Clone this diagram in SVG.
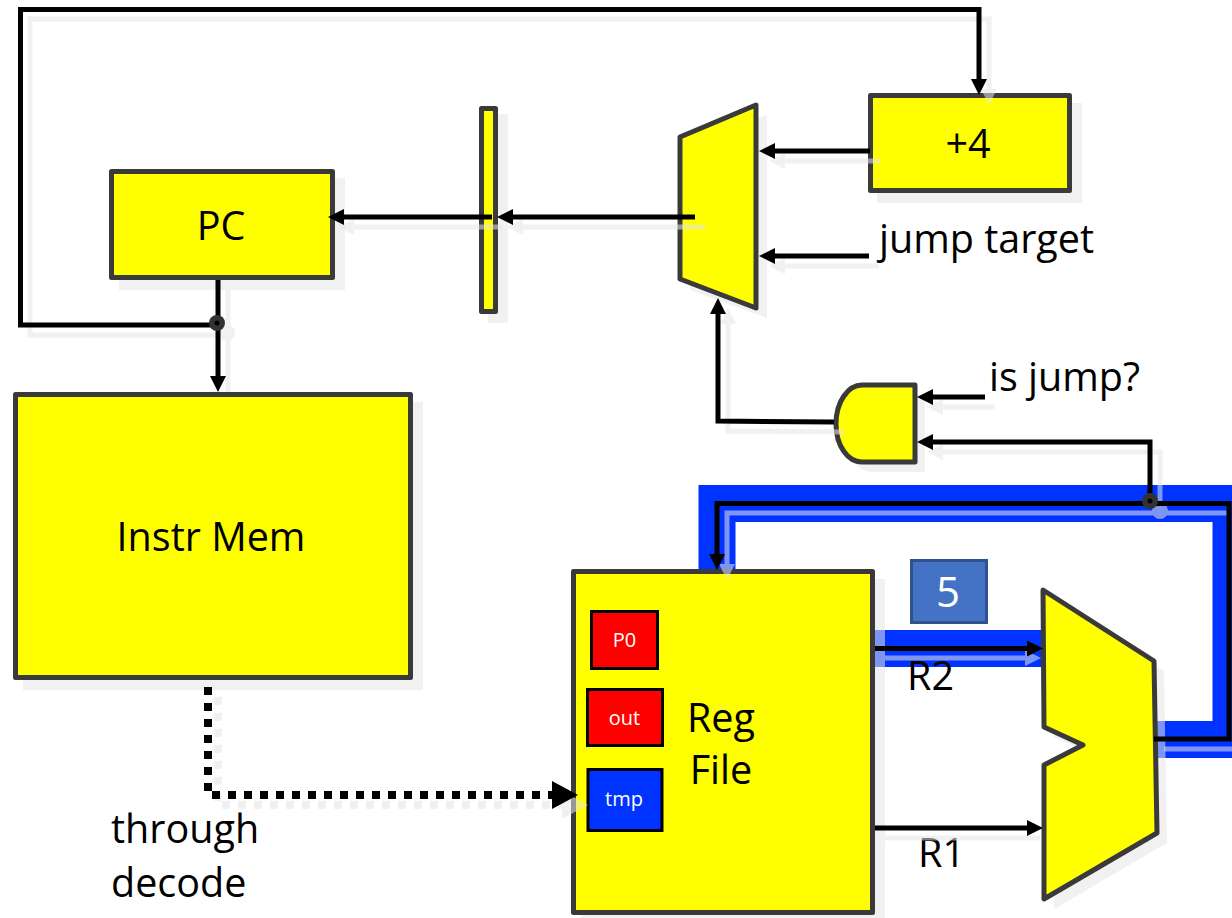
<svg xmlns="http://www.w3.org/2000/svg" width="1232" height="918" viewBox="0 0 1232 918">
<style>
text{font-family:"Open Sans","Noto Sans",sans-serif;fill:#000}
.t{font-size:39.5px}
.m{text-anchor:middle}
.s{font-size:20px;fill:#fff;text-anchor:middle}
.node{fill:#ff0;stroke:#3a3a3a;stroke-width:5;stroke-linejoin:round}
.ns{fill:#e6e6e6;opacity:.55}
.w{fill:none;stroke:#000;stroke-width:5;stroke-linejoin:miter}
.a{marker-end:url(#ah)}
.sw{fill:none;stroke:#e6e6e6;stroke-width:5}
.sa{marker-end:url(#sh)}
.blue{fill:none;stroke:#0033ff;stroke-width:37}
.reg{stroke:#000;stroke-width:3}
</style>
<defs>
<marker id="ah" markerUnits="userSpaceOnUse" markerWidth="16" markerHeight="16" refX="2" refY="8" orient="auto"><path d="M0 0L16 8L0 16Z" fill="#000"/></marker>
<marker id="sh" markerUnits="userSpaceOnUse" markerWidth="16" markerHeight="16" refX="2" refY="8" orient="auto"><path d="M0 0L16 8L0 16Z" fill="#e6e6e6"/></marker>
<marker id="ahl" markerUnits="userSpaceOnUse" markerWidth="26" markerHeight="28" refX="2" refY="14" orient="auto"><path d="M0 0L26 14L0 28Z" fill="#000"/></marker>
<marker id="shl" markerUnits="userSpaceOnUse" markerWidth="26" markerHeight="28" refX="2" refY="14" orient="auto"><path d="M0 0L26 14L0 28Z" fill="#e6e6e6"/></marker>
</defs>
<rect width="1232" height="918" fill="#fff"/>

<g id="highlights">
<path class="blue" d="M717 572V503.5H1231V739.5H1150"/>
<path class="blue" d="M870 648.5H1046"/>
</g>

<g id="pc">
<rect class="ns" x="119" y="178" width="226" height="112"/>
<rect class="node" x="111.5" y="171.5" width="221" height="106"/>
<text class="t m" x="221" y="240">PC</text>
</g>
<g id="latch">
<rect class="ns" x="488" y="114" width="20" height="209"/>
<rect class="node" x="481.5" y="108.5" width="14" height="203"/>
</g>
<g id="mux">
<path class="ns" d="M690 147L767 115V318L690 290Z"/>
<path class="node" d="M680 137L756 105V308L680 279Z"/>
</g>
<g id="plus4">
<rect class="ns" x="877" y="103" width="205" height="100"/>
<rect class="node" x="870.5" y="95.5" width="199" height="95"/>
<text class="t m" x="968" y="158">+4</text>
</g>
<g id="and-gate">
<path class="ns" d="M925 395H872C858 395 846 412 846 434C846 456 858 472 872 472H925Z"/>
<path class="node" d="M915 385H862C848 385 836 402 836 424C836 446 848 462 862 462H915Z"/>
</g>
<g id="instr-mem">
<rect class="ns" x="23" y="402" width="400" height="288"/>
<rect class="node" x="15.5" y="394.5" width="395" height="283"/>
<text class="t m" x="211" y="551">Instr Mem</text>
</g>
<g id="reg-file">
<rect class="ns" x="581" y="579" width="304" height="339"/>
<rect class="node" x="573.5" y="571.5" width="299" height="341"/>
<text class="t m" x="721" y="732">Reg</text>
<text class="t m" x="721" y="784">File</text>
<g id="p0"><rect class="reg" x="591.500" y="611.500" width="66" height="57" fill="#f00"/><text class="s" x="624.500" y="647">P0</text></g>
<g id="out"><rect class="reg" x="587.500" y="689.500" width="75" height="56" fill="#f00"/><text class="s" x="624.500" y="725">out</text></g>
<g id="tmp"><rect class="reg" x="588" y="769.500" width="74" height="61" fill="#0033ff"/><text class="s" x="624" y="806">tmp</text></g>
</g>
<g id="value-5">
<rect x="911.500" y="560.500" width="75" height="62" fill="#4472c4" stroke="#2f528f" stroke-width="3"/>
<text x="948" y="607" class="m" style="font-size:42px;fill:#fff">5</text>
</g>
<g id="alu">
<path class="ns" d="M1053 600L1164 671L1167 843L1054 909V775L1093 755L1054 737Z"/>
<path class="node" d="M1043 590L1154 661L1157 833L1044 899V765L1083 745L1044 727Z"/>
</g>

<g id="labels">
<text class="t" x="879" y="253">jump target</text>
<text class="t" x="989" y="391">is jump?</text>
<text class="t" x="907" y="690">R2</text>
<text class="t" x="918" y="867">R1</text>
<text class="t" x="111" y="843">through</text>
<text class="t" x="111" y="897">decode</text>
</g>

<g id="connectors">
<g id="connector-shadows" opacity=".55">
<path class="sw sa" d="M227 335H30V19H989V91"/>
<path class="sw" d="M228 290V392"/>
<path class="sw sa" d="M502 227H352"/>
<path class="sw sa" d="M705 227H521"/>
<path class="sw sa" d="M880 161H783"/>
<path class="sw sa" d="M879 266H783"/>
<path class="sw sa" d="M844 432L728 431V322"/>
<path class="sw sa" d="M995 407H941"/>
<path class="sw sa" d="M1160 511V452H941"/>
<path class="sw sa" d="M1228 513H727V566"/>
<path class="sw" d="M1164 749H1239"/>
<path class="sw sa" d="M885 658H1027"/>
<path class="sw" d="M885 838H1040"/>
<path class="sw" d="M218 697V805H564" stroke-dasharray="8 8" style="stroke-width:8;marker-end:url(#shl)"/>
<circle cx="227" cy="333" r="8" fill="#e6e6e6"/>
<circle cx="1160" cy="511" r="8" fill="#e6e6e6"/>
</g>
<path class="w a" d="M217 325H20.500V9.500H979V81"/>
<path class="w a" d="M218 280V378"/>
<path class="w a" d="M492 217H342"/>
<path class="w a" d="M695 217H511"/>
<path class="w a" d="M870 151H773"/>
<path class="w a" d="M869 256H773"/>
<path class="w a" d="M834 422L718 421V312"/>
<path class="w a" d="M985 397H931"/>
<path class="w a" d="M1150 500V442H931"/>
<path class="w a" d="M1154 739H1229V503.500H717V556"/>
<path class="w a" d="M875 648.500H1029"/>
<path class="w a" d="M875 828H1029"/>
<path class="w" d="M208 687V795H554" stroke-dasharray="8 8" style="stroke-width:8;marker-end:url(#ahl)"/>
<g id="junctions">
<circle cx="217" cy="323" r="8" fill="#333"/><circle cx="217" cy="323" r="2.500" fill="#000"/>
<circle cx="1150" cy="501" r="8" fill="#333"/><circle cx="1150" cy="501" r="2.500" fill="#000"/>
</g>
</g>
</svg>
